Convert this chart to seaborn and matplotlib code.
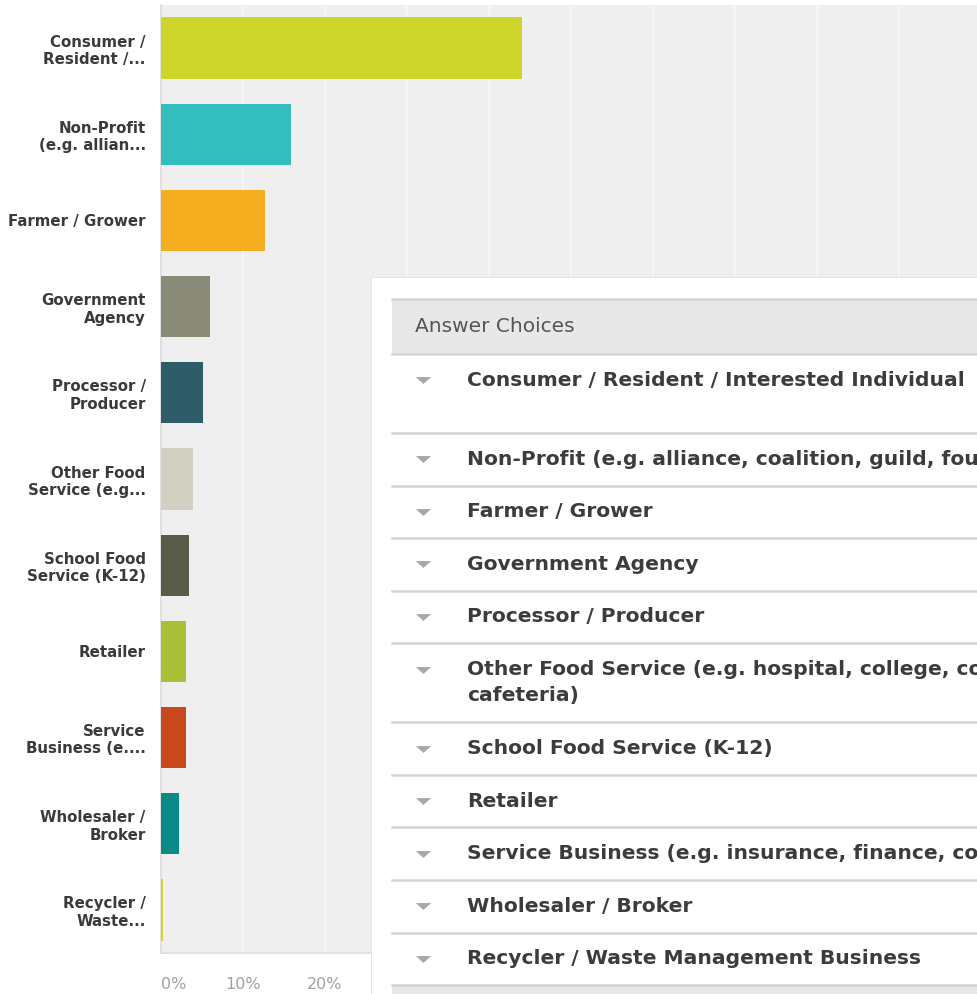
import matplotlib
matplotlib.use("Agg")
import matplotlib.pyplot as plt
import seaborn as sns
from matplotlib.patches import Rectangle

# Survey answers (percent of respondents)
categories = [
    "Consumer / Resident / Interested Individual",
    "Non-Profit (e.g. alliance, coalition, guild, foundation)",
    "Farmer / Grower",
    "Government Agency",
    "Processor / Producer",
    "Other Food Service (e.g. hospital, college, corporate\ncafeteria)",
    "School Food Service (K-12)",
    "Retailer",
    "Service Business (e.g. insurance, finance, consulting)",
    "Wholesaler / Broker",
    "Recycler / Waste Management Business",
]
axis_labels = [
    "Consumer /\nResident /...",
    "Non-Profit\n(e.g. allian...",
    "Farmer / Grower",
    "Government\nAgency",
    "Processor /\nProducer",
    "Other Food\nService (e.g...",
    "School Food\nService (K-12)",
    "Retailer",
    "Service\nBusiness (e....",
    "Wholesaler /\nBroker",
    "Recycler /\nWaste...",
]
percent = [44.0, 15.9, 12.7, 6.0, 5.1, 3.9, 3.4, 3.0, 3.0, 2.2, 0.3]
colors = ["#cdd42a", "#33bdbd", "#f5ae1f", "#8a8a78", "#2e5c68", "#d1d0c2",
          "#5b5b4a", "#a8bf38", "#c8471b", "#0b8a87", "#cdd42a"]
row_lines = [2, 1, 1, 1, 1, 2, 1, 1, 1, 1, 1]
xticks = list(range(0, 101, 10))
xtick_labels = ["0%", "10%", "20%"]  # the rest sit under the table panel

plt.rcParams["font.family"] = ["DejaVu Sans"]

W, H = 977, 994
fig = plt.figure(figsize=(W / 100, H / 100), dpi=100)
fig.patch.set_facecolor("white")

# main bar chart
ax = fig.add_axes([161 / W, 41 / H, 820 / W, 948 / H])
ax.set_facecolor("#efefef")
sns.barplot(x=percent, y=axis_labels, hue=axis_labels, palette=colors, legend=False,
            orient="h", width=0.71, saturation=1, ax=ax, zorder=3)
ax.set_xlim(0, 100)
ax.set_ylim(10.5, -0.5)
ax.set_xticks(xticks)
ax.set_xticklabels(xtick_labels + [""] * (len(xticks) - len(xtick_labels)),
                   color="#a0a0a0", fontsize=11.5)
ax.get_xticklabels()[0].set_ha("left")
ax.grid(axis="x", color="#f6f6f6", linewidth=1.3, zorder=0)
ax.set_axisbelow(True)
ax.tick_params(axis="x", length=0, pad=17)
ax.tick_params(axis="y", length=0, pad=11, labelsize=10.8, labelcolor="#3a3a3a")
for lab in ax.get_yticklabels():
    lab.set_fontweight("bold")
ax.set_xlabel("")
ax.set_ylabel("")
for side in ["top", "right"]:
    ax.spines[side].set_visible(False)
for side in ["left", "bottom"]:
    ax.spines[side].set_color("#dcdcdc")
    ax.spines[side].set_linewidth(1.2)

# white table panel overlapping the chart
px0, py0 = 371, 277
pw, ph = W - px0, H - py0
pan = fig.add_axes([px0 / W, 0, pw / W, ph / H], zorder=10)
pan.set_xlim(0, pw)
pan.set_ylim(ph, 0)
pan.set_facecolor("white")
pan.axis("off")
pan.add_patch(Rectangle((0, 0), pw + 5, ph + 5, facecolor="white", edgecolor="#e2e2e2",
                        linewidth=1.2, zorder=0))

tx0 = 21
line_c = "#d4d4d4"
tri = [(-1, 0.45), (1, 0.45), (0, -0.45)]
# header
pan.add_patch(Rectangle((tx0, 22), pw, 55, facecolor="#e8e8e8", edgecolor="none", zorder=1))
pan.plot([tx0, pw], [22, 22], color=line_c, lw=1.8, zorder=2)
pan.plot([tx0, pw], [77, 77], color=line_c, lw=1.8, zorder=2)
pan.text(44, 49.5, "Answer Choices", fontsize=14.5, color="#555555", va="center", ha="left")

unit = 26.3
y = 77
for name, n in zip(categories, row_lines):
    h = unit * (n + 1)
    lines = name.split("\n")
    pan.plot([52], [y + unit], marker=tri, markersize=11, color="#a8a8a8",
             markeredgewidth=0, zorder=3)
    for k, ln in enumerate(lines):
        pan.text(96, y + unit * (k + 1), ln, fontsize=14.6, fontweight="bold",
                 color="#3c3c3c", va="center", ha="left", zorder=3)
    y += h
    pan.plot([tx0, pw], [y, y], color=line_c, lw=1.8, zorder=2)

# footer band
pan.add_patch(Rectangle((tx0, y + 1), pw, ph - y, facecolor="#e8e8e8", edgecolor="none", zorder=1))

fig.savefig("out.png", dpi=100)
